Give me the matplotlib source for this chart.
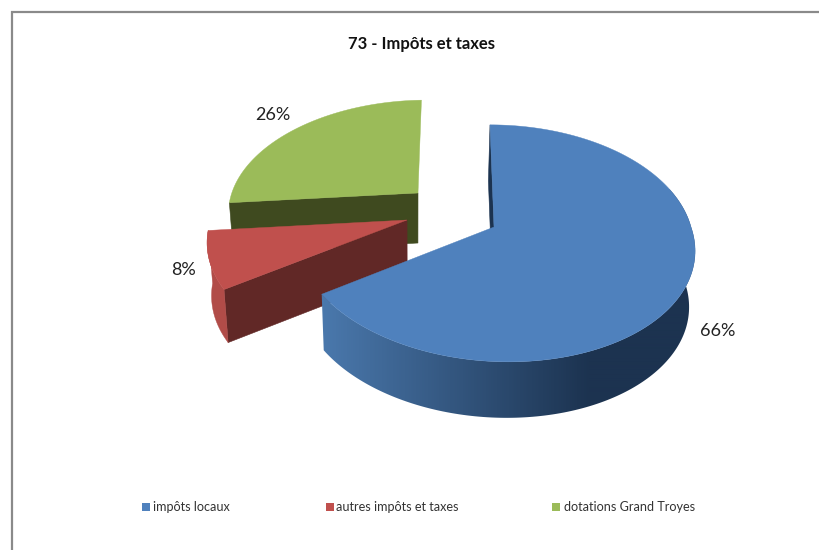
import numpy as np
import matplotlib
matplotlib.use("Agg")
import matplotlib.pyplot as plt
from matplotlib.colors import LinearSegmentedColormap
from matplotlib.patches import Polygon

# Données du graphique
titre = "73 - Impôts et taxes"
categories = ["impôts locaux", "autres impôts et taxes", "dotations Grand Troyes"]
valeurs = [66, 8, 26]

couleurs = ["#4f81bd", "#c0504d", "#9bbb59"]
couleurs_flanc = ["#1c3350", "#612826", "#3f4a1f"]
couleurs_bord = ["#4a78ac", "#b14c48", "#3f4a1f"]

# Sommet de chaque part (pixels) et réglages de la vue
sommets = [(494, 227), (407, 220), (418, 193)]
echelles = [0.985, 0.985, 0.935]
aplats = [118, 117, 113]
epaisseurs = [56, 53, 50]
inclinaisons = [0.0, -0.016, -0.016]
glissements = [0.07, 0.0, 0.0]
RAYON = 200
PERSP = 0.138
FUITE_X = 415
FUITE_C = 0.0215
PROF_X = 455
PROF_H = 1000

pos_etiquettes = [(718, 331), (184, 270), (273, 115)]
pos_legende = [(146, 153), (329.5, 336), (556, 564)]


def projeter(theta, i, bas=0.0):
    # theta en radians, sens horaire depuis midi
    theta = np.asarray(theta)
    sx, sy = sommets[i]
    s = 1 / (1 + PERSP * np.cos(theta))
    dx = echelles[i] * RAYON * s * np.sin(theta)
    dy = -echelles[i] * aplats[i] * s * np.cos(theta) + inclinaisons[i] * dx
    x = sx + dx + (PROF_X - sx) * (-dy) / PROF_H + glissements[i] * np.maximum(dy, 0)
    y = sy + dy
    x = x + (FUITE_X - x) * FUITE_C * bas
    return x, y + epaisseurs[i] * bas


def flanc(t0, t1, i):
    t = np.linspace(t0, t1, 160)
    xh, yh = projeter(t, i)
    xb, yb = projeter(t[::-1], i, 1.0)
    return np.column_stack([np.r_[xh, xb], np.r_[yh, yb]])


def rayon_flanc(theta, i):
    sx, sy = sommets[i]
    xo, yo = projeter(theta, i)
    xo2, yo2 = projeter(theta, i, 1.0)
    xa = sx + (FUITE_X - sx) * FUITE_C
    return [(sx, sy), (xo, yo), (xo2, yo2), (xa, sy + epaisseurs[i])]


fig = plt.figure(figsize=(8.19, 5.5), dpi=100)
ax = fig.add_axes([0, 0, 1, 1])
ax.axis("off")
police = ["Lato", "DejaVu Sans"]

# Cadre : seulement haut et gauche
ax.plot([12, 12, 819], [550, 12, 12], color="#8a8a8a", lw=1.6, solid_joinstyle="miter")

# Angles des parts
fractions = np.cumsum([0] + valeurs) / sum(valeurs) * 2 * np.pi
debut = fractions[:-1]
fin = fractions[1:]

# On dessine de l'arrière vers l'avant
for niveau, i in enumerate([2, 1, 0]):
    z = 2 + niveau * 3
    # flanc du rayon de départ
    ax.add_patch(Polygon(rayon_flanc(debut[i], i), closed=True, fc=couleurs_flanc[i],
                         ec=couleurs_flanc[i], lw=0.4, zorder=z))
    # flanc extérieur
    if i == 0:
        poly = Polygon(flanc(np.radians(70), fin[i], i), closed=True, fc="none", ec="none", zorder=z)
        ax.add_patch(poly)
        degrade = LinearSegmentedColormap.from_list("flanc", [couleurs_bord[0], couleurs_flanc[0]])
        grad = np.clip((np.linspace(310, 710, 400) - 323) / 267, 0, 1).reshape(1, -1)
        im = ax.imshow(grad, cmap=degrade, extent=(310, 710, 430, 150), aspect="auto",
                       interpolation="bilinear", zorder=z + 1)
        im.set_clip_path(poly)
    elif i == 1:
        ax.add_patch(Polygon(flanc(debut[i], fin[i], i), closed=True, fc=couleurs_bord[i],
                             ec=couleurs_bord[i], lw=0.3, zorder=z + 1))
    # dessus de la part
    t = np.linspace(debut[i], fin[i], 200)
    xd, yd = projeter(t, i)
    dessus = np.column_stack([np.r_[sommets[i][0], xd], np.r_[sommets[i][1], yd]])
    ax.add_patch(Polygon(dessus, closed=True, fc=couleurs[i], ec=couleurs[i], lw=0.3, zorder=z + 2))

ax.set_xlim(0, 819)
ax.set_ylim(550, 0)

# Étiquettes de pourcentage
for v, (x, y) in zip(valeurs, pos_etiquettes):
    ax.text(x, y, f"{v}%", family=police, fontsize=13, color="#222222", ha="center", va="center",
            zorder=20)

ax.text(421, 44, titre, family=police, fontsize=12, fontweight="bold", color="#111111",
        ha="center", va="center")

# Légende en bas
for nom, c, (xc, xt) in zip(categories, couleurs, pos_legende):
    ax.add_patch(plt.Rectangle((xc - 4, 503), 8, 8, fc=c, ec="none"))
    ax.text(xt, 507, nom, family=police, fontsize=9.1, color="#333333", ha="left", va="center")

fig.savefig("out.png", dpi=100)
